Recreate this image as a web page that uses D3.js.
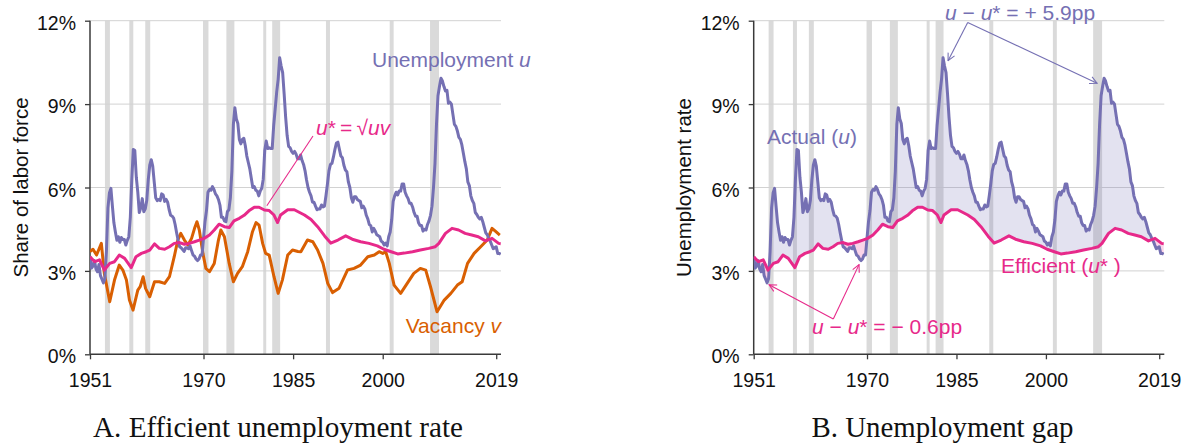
<!DOCTYPE html>
<html><head><meta charset="utf-8">
<script src="https://cdn.jsdelivr.net/npm/d3@7"></script>
<style>body{margin:0;background:#fff}svg{display:block}</style>
</head><body>
<svg id="chart" width="1187" height="444"></svg>
<script>
// ---------------- DATA ----------------
// Unemployment rate u (%), quarterly, starting 1951 Q1
const uStartYear = 1951;
const uQuarterly = [
 3.53,3.10,3.17,3.37, 3.07,2.97,3.23,2.83, 2.70,2.57,2.73,3.70, 5.27,5.80,5.97,5.33,
 4.73,4.40,4.10,4.23, 4.03,4.20,4.13,4.13, 3.93,4.10,4.23,4.93, 6.30,7.37,7.33,6.37,
 5.83,5.10,5.27,5.60, 5.13,5.23,5.53,6.27, 6.80,7.00,6.77,6.20, 5.63,5.53,5.57,5.53,
 5.77,5.73,5.50,5.57, 5.47,5.20,5.00,4.97, 4.90,4.67,4.37,4.10, 3.87,3.83,3.77,3.70,
 3.83,3.83,3.80,3.90, 3.73,3.57,3.53,3.43, 3.37,3.43,3.57,3.57, 4.17,4.77,5.17,5.83,
 5.93,5.90,6.03,5.93, 5.77,5.70,5.57,5.37, 4.93,4.93,4.80,4.77, 5.13,5.20,5.63,6.60,
 8.27,8.87,8.47,8.30, 7.73,7.57,7.73,7.77, 7.50,7.13,6.90,6.67, 6.33,6.00,6.03,5.90,
 5.87,5.70,5.87,5.97, 6.30,7.33,7.67,7.40, 7.43,7.40,7.40,8.23, 8.83,9.43,9.90,10.67,
 10.37,10.13,9.37,8.53, 7.87,7.48,7.43,7.30, 7.23,7.30,7.20,7.03, 7.03,7.17,6.97,6.83,
 6.60,6.27,6.00,5.83, 5.70,5.47,5.47,5.33, 5.20,5.23,5.23,5.37, 5.30,5.33,5.70,6.13,
 6.60,6.83,6.87,7.10, 7.37,7.60,7.63,7.37, 7.13,7.07,6.80,6.63, 6.57,6.20,6.00,5.63,
 5.47,5.67,5.67,5.57, 5.53,5.50,5.27,5.33, 5.23,5.00,4.87,4.67, 4.63,4.40,4.53,4.43,
 4.30,4.27,4.23,4.07, 4.03,3.93,4.00,3.90, 4.23,4.40,4.83,5.50, 5.70,5.83,5.73,5.87,
 5.87,6.13,6.13,5.83, 5.70,5.60,5.43,5.43, 5.30,5.10,4.97,4.97, 4.73,4.63,4.63,4.43,
 4.50,4.47,4.67,4.80, 5.00,5.33,6.00,6.87, 8.27,9.30,9.63,9.93, 9.83,9.63,9.47,9.50,
 9.03,9.07,9.00,8.63, 8.27,8.20,8.03,7.80, 7.73,7.53,7.23,6.93, 6.67,6.20,6.07,5.70,
 5.53,5.43,5.10,5.03, 4.93,4.87,4.93,4.77, 4.57,4.37,4.30,4.17, 4.07,3.93,3.80,3.83,
 3.87,3.63,3.63,3.60
];

// Vacancy rate v (%)
const vDates = [
 1951.0,1951.5,1952.1,1952.9,1953.4,1954.3,1955.1,1955.9,1956.5,1957.1,1957.6,1958.2,
 1959.0,1959.4,1959.9,1960.3,1961.0,1961.8,1962.6,1963.5,1964.3,1965.1,1965.7,1966.2,
 1966.8,1967.4,1968.0,1968.5,1968.9,1969.3,1969.9,1970.4,1971.0,1971.8,1972.5,1972.9,
 1973.5,1974.3,1975.0,1975.7,1976.5,1977.4,1978.2,1978.8,1979.3,1979.9,1980.4,1981.0,
 1981.8,1982.5,1983.2,1984.1,1984.9,1985.8,1986.3,1987.4,1988.3,1989.1,1990.0,1990.8,
 1991.6,1992.7,1994.1,1995.2,1996.3,1997.5,1998.6,1999.4,2000.0,2000.5,2001.1,2001.9,
 2003.0,2004.1,2005.2,2006.3,2007.2,2008.0,2009.1,2010.3,2011.4,2012.5,2013.3,2014.2,
 2015.3,2016.4,2017.5,2018.3,2019.0,2019.6
];
const vValues = [
 3.69,3.78,3.57,3.99,2.91,1.89,2.67,3.21,3.03,2.67,1.95,1.59,
 2.31,2.43,2.79,2.37,2.07,2.61,2.61,2.55,2.79,3.51,4.11,4.35,
 4.11,3.93,4.17,4.53,4.77,4.47,3.63,3.09,2.97,3.27,4.11,4.47,
 4.23,3.27,2.61,2.91,3.15,3.69,4.41,4.74,4.65,3.99,3.63,3.57,
 2.79,2.19,2.67,3.57,3.75,3.70,3.69,4.11,4.05,3.75,3.27,2.55,
 2.22,2.38,3.03,3.09,3.21,3.51,3.57,3.69,3.63,3.69,3.27,2.49,
 2.19,2.55,2.91,3.09,3.03,2.43,1.53,1.95,2.19,2.49,2.61,3.27,
 3.63,3.87,4.11,4.53,4.40,4.29
];

// Efficient unemployment rate u* (%)
const uStarDates = [
 1951.0,1951.8,1952.6,1953.4,1954.3,1955.1,1955.9,1956.8,1957.9,1958.7,1959.6,1960.4,
 1961.0,1961.8,1962.6,1963.5,1964.3,1965.1,1966.0,1966.8,1967.6,1968.5,1969.3,1970.1,
 1971.0,1971.8,1972.6,1973.5,1974.3,1975.1,1976.0,1976.8,1977.6,1978.5,1979.3,1980.2,
 1981.0,1981.8,1982.4,1982.9,1984.1,1985.2,1986.9,1988.0,1989.1,1990.3,1991.3,1992.5,
 1993.8,1994.9,1996.3,1997.7,1999.1,2000.2,2001.4,2002.5,2003.6,2005.0,2006.3,2007.7,
 2008.8,2009.4,2010.5,2011.6,2012.7,2013.8,2014.9,2016.0,2017.2,2018.3,2019.4,2019.75
];
const uStarValues = [
 3.51,3.33,3.40,3.03,3.27,3.33,3.57,3.45,3.12,3.51,3.63,3.69,
 3.75,3.97,3.81,3.78,3.87,3.99,4.02,3.96,3.99,4.05,4.11,4.17,
 4.29,4.47,4.68,4.59,4.56,4.80,4.89,5.00,5.16,5.29,5.29,5.19,
 5.17,5.01,4.74,5.01,5.20,5.20,5.01,4.85,4.59,4.25,4.00,4.11,
 4.26,4.14,4.05,3.99,3.90,3.78,3.69,3.61,3.64,3.69,3.75,3.81,
 3.87,3.99,4.35,4.53,4.47,4.35,4.29,4.23,4.08,4.17,3.99,3.98
];

// NBER recessions (start, end)
const recessionStarts = [1953.50,1957.58,1960.25,1969.92,1973.83,1980.00,1981.50,1990.50,2001.17,2007.92];
const recessionEnds   = [1954.33,1958.25,1961.08,1970.83,1975.17,1980.50,1982.83,1991.17,2001.83,2009.42];

const yTickValues = [0,3,6,9,12];
const yTickLabels = ["0%","3%","6%","9%","12%"];
const xTickValues = [1951,1970,1985,2000,2019];
const xTickLabels = ["1951","1970","1985","2000","2019"];

// ---------------- STYLE ----------------
const C_U = "#7570b3", C_V = "#d95f02", C_S = "#e7298a";
const SANS = "'Liberation Sans', Arial, Helvetica, sans-serif";
const SERIF = "'Liberation Serif', 'Times New Roman', serif";

const uSeries = uQuarterly.map((v,i)=>({t:uStartYear + i/4, v}));
const vSeries = vDates.map((t,i)=>({t, v:vValues[i]}));
const sSeries = uStarDates.map((t,i)=>({t, v:uStarValues[i]}));
const recessions = recessionStarts.map((s,i)=>[s, recessionEnds[i]]);

const svg = d3.select("#chart");
const defs = svg.append("defs");
["u","s"].forEach(k=>{
  defs.append("marker").attr("id","arr-"+k).attr("viewBox","0 0 10 10")
    .attr("refX",9).attr("refY",5).attr("markerWidth",9).attr("markerHeight",9)
    .attr("markerUnits","userSpaceOnUse").attr("orient","auto")
    .append("path").attr("d","M1,1 L9,5 L1,9").attr("fill","none")
    .attr("stroke", k==="u"?C_U:C_S).attr("stroke-width",1.2);
});

const yTop = 20.7, yBot = 354.3;

function panel(id, x0, x1, xMaxYear, yLabel, title, titleCx){
  const g = svg.append("g");
  const x = d3.scaleLinear().domain([1951, xMaxYear]).range([x0, x1]);
  const y = d3.scaleLinear().domain([0, 12]).range([yBot, yTop]);

  defs.append("clipPath").attr("id","plot-"+id).append("rect")
    .attr("x",x0).attr("y",yTop-2).attr("width",x1-x0).attr("height",yBot-yTop+2);

  g.append("g").selectAll("rect").data(recessions).join("rect")
    .attr("x",d=>x(d[0])).attr("width",d=>x(d[1])-x(d[0]))
    .attr("y",yTop).attr("height",yBot-yTop).attr("fill","#dadada");

  g.append("g").selectAll("line").data(yTickValues.filter(v=>v>0)).join("line")
    .attr("x1",x0).attr("x2",x1).attr("y1",d=>y(d)).attr("y2",d=>y(d))
    .attr("stroke","#d2d2d2").attr("stroke-width",1);

  const ya = g.append("g").attr("transform",`translate(${x0},0)`)
    .call(d3.axisLeft(y).tickValues(yTickValues).tickFormat((d,i)=>yTickLabels[i]).tickSize(5).tickPadding(9));
  ya.select(".domain").attr("stroke","#3a3a3a").attr("stroke-width",1.5).attr("d",`M0,${yTop}V${yBot}`);
  ya.selectAll(".tick line").attr("stroke","#3a3a3a").attr("stroke-width",1.3);
  ya.selectAll(".tick text").attr("font-family",SANS).attr("font-size","19.5px").attr("fill","#111").attr("dy","0.44em");

  const xa = g.append("g").attr("transform",`translate(0,${yBot})`)
    .call(d3.axisBottom(x).tickValues(xTickValues).tickFormat((d,i)=>xTickLabels[i]).tickSize(5).tickPadding(14));
  xa.select(".domain").attr("stroke","#3a3a3a").attr("stroke-width",1.5).attr("d",`M${x0},0H${x1}`);
  xa.selectAll(".tick line").attr("stroke","#3a3a3a").attr("stroke-width",1.3);
  xa.selectAll(".tick text").attr("font-family",SANS).attr("font-size","19.5px").attr("fill","#111");

  g.append("text").attr("transform",`translate(${x0-70},${(yTop+yBot)/2}) rotate(-90)`)
    .attr("text-anchor","middle").attr("dominant-baseline","central")
    .attr("font-family",SANS).attr("font-size","20.5px").attr("fill","#111").text(yLabel);

  const tt = svg.append("text").attr("x",titleCx).attr("y",437).attr("text-anchor","middle")
    .attr("font-family",SERIF).attr("font-size","27px").attr("fill","#111").text(title);
  return {g, x, y, tt};
}

// ---------------- PANEL A ----------------
const A = panel("a", 90, 501, 2019.8, "Share of labor force", "A. Efficient unemployment rate", 278);
const lineA = d3.line().x(d=>A.x(d.t)).y(d=>A.y(d.v));
const gA = A.g.append("g").attr("clip-path","url(#plot-a)");
gA.append("path").datum(vSeries).attr("d",lineA).attr("fill","none").attr("stroke",C_V).attr("stroke-width",3).attr("stroke-linejoin","round");
gA.append("path").datum(uSeries).attr("d",lineA).attr("fill","none").attr("stroke",C_U).attr("stroke-width",3).attr("stroke-linejoin","round");
gA.append("path").datum(sSeries).attr("d",lineA).attr("fill","none").attr("stroke",C_S).attr("stroke-width",3).attr("stroke-linejoin","round");

const tU = A.g.append("text").attr("x",372).attr("y",66.5).attr("font-family",SANS).attr("font-size","21px").attr("fill",C_U);
tU.append("tspan").text("Unemployment ");
tU.append("tspan").attr("font-style","italic").text("u");

const tS = A.g.append("text").attr("x",316).attr("y",135).attr("font-family",SANS).attr("font-size","21px").attr("fill",C_S);
tS.append("tspan").attr("font-style","italic").text("u");
tS.append("tspan").text("*\u2009=\u2009√");
tS.append("tspan").attr("font-style","italic").text("uv");

A.g.append("line").attr("x1",313).attr("y1",136).attr("x2",A.x(1980.6)).attr("y2",A.y(5.2)-4)
  .attr("stroke",C_S).attr("stroke-width",1.1);

const tV = A.g.append("text").attr("x",501).attr("y",333.3).attr("text-anchor","end").attr("font-family",SANS).attr("font-size","21px").attr("fill",C_V);
tV.append("tspan").text("Vacancy ");
tV.append("tspan").attr("font-style","italic").text("v");

// ---------------- PANEL B ----------------
const B = panel("b", 753.7, 1164.3, 2019.85, "Unemployment rate", "B. Unemployment gap", 942.5);
const lineB = d3.line().x(d=>B.x(d.t)).y(d=>B.y(d.v));
defs.append("clipPath").attr("id","above-s").append("path")
  .attr("d", d3.area().x(d=>B.x(d.t)).y0(0).y1(d=>B.y(d.v))(
    [{t:1940,v:sSeries[0].v}, ...sSeries, {t:2030,v:sSeries[sSeries.length-1].v}]));
defs.append("clipPath").attr("id","above-u").append("path")
  .attr("d", d3.area().x(d=>B.x(d.t)).y0(0).y1(d=>B.y(d.v))(
    [{t:1940,v:uSeries[0].v}, ...uSeries, {t:2030,v:uSeries[uSeries.length-1].v}]));

const gB = B.g.append("g").attr("clip-path","url(#plot-b)");
gB.append("g").attr("clip-path","url(#above-s)").append("path").datum(uSeries)
  .attr("d", d3.area().x(d=>B.x(d.t)).y0(yBot).y1(d=>B.y(d.v)))
  .attr("fill", C_U).attr("fill-opacity",0.2);
gB.append("g").attr("clip-path","url(#above-u)").append("path").datum(sSeries)
  .attr("d", d3.area().x(d=>B.x(d.t)).y0(yBot).y1(d=>B.y(d.v)))
  .attr("fill", C_S).attr("fill-opacity",0.2);
gB.append("path").datum(uSeries).attr("d",lineB).attr("fill","none").attr("stroke",C_U).attr("stroke-width",3).attr("stroke-linejoin","round");
gB.append("path").datum(sSeries).attr("d",lineB).attr("fill","none").attr("stroke",C_S).attr("stroke-width",3).attr("stroke-linejoin","round");

const tA = B.g.append("text").attr("x",767).attr("y",143.5).attr("font-family",SANS).attr("font-size","21px").attr("fill",C_U);
tA.append("tspan").text("Actual (");
tA.append("tspan").attr("font-style","italic").text("u");
tA.append("tspan").text(")");

const tE = B.g.append("text").attr("x",1001).attr("y",272.5).attr("font-family",SANS).attr("font-size","21px").attr("fill",C_S);
tE.append("tspan").text("Efficient (");
tE.append("tspan").attr("font-style","italic").text("u");
tE.append("tspan").text("*");
tE.append("tspan").text(" )");

const tP = B.g.append("text").attr("x",945).attr("y",20).attr("font-family",SANS).attr("font-size","21px").attr("fill",C_U);
tP.append("tspan").attr("font-style","italic").text("u");
tP.append("tspan").text(" − ");
tP.append("tspan").attr("font-style","italic").text("u");
tP.append("tspan").text("* = + 5.9pp");

const tN = B.g.append("text").attr("x",812).attr("y",334).attr("font-family",SANS).attr("font-size","21px").attr("fill",C_S);
tN.append("tspan").attr("font-style","italic").text("u");
tN.append("tspan").text(" − ");
tN.append("tspan").attr("font-style","italic").text("u");
tN.append("tspan").text("* = − 0.6pp");

const arrows = [
  {x1:967.7,y1:22.5, x2:B.x(1982.75)+5, y2:B.y(10.67)+3, k:"u", c:C_U},
  {x1:967.7,y1:22.5, x2:B.x(2009.75)-7, y2:B.y(9.93)+5, k:"u", c:C_U},
  {x1:833.3,y1:319, x2:B.x(1953.25)+2, y2:B.y(2.57)+2, k:"s", c:C_S},
  {x1:833.3,y1:319, x2:B.x(1969.0)-2, y2:B.y(3.37)+4, k:"s", c:C_S}
];
B.g.append("g").selectAll("line").data(arrows).join("line")
  .attr("x1",d=>d.x1).attr("y1",d=>d.y1).attr("x2",d=>d.x2).attr("y2",d=>d.y2)
  .attr("stroke",d=>d.c).attr("stroke-width",1.1).attr("marker-end",d=>`url(#arr-${d.k})`);

function fit(t, w){ const l = t.node().getComputedTextLength(); t.attr("font-size", (27*w/l).toFixed(2)+"px"); }
fit(A.tt, 370); fit(B.tt, 262);
</script>
</body></html>
